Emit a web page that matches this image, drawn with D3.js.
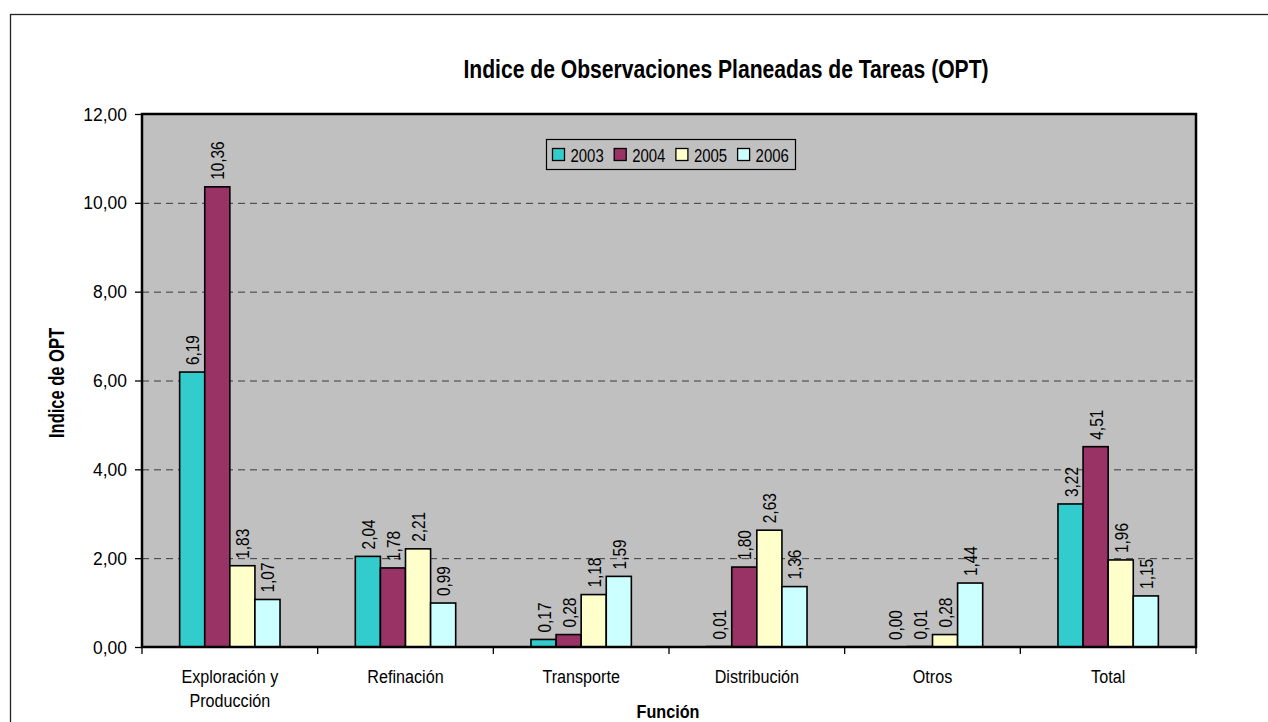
<!DOCTYPE html>
<html>
<head>
<meta charset="utf-8">
<script src="https://cdn.jsdelivr.net/npm/d3@7"></script>
<style>
  body { margin: 0; background: #fff; }
  text { font-family: "Liberation Sans", Arial, sans-serif; fill: #000; }
</style>
</head>
<body>
<div id="chart"></div>
<script>
var categories = [["Exploración y", "Producción"], ["Refinación"], ["Transporte"], ["Distribución"], ["Otros"], ["Total"]];
var years = ["2003", "2004", "2005", "2006"];
var v2003 = [6.19, 2.04, 0.17, 0.01, 0.00, 3.22];
var v2004 = [10.36, 1.78, 0.28, 1.80, 0.01, 4.51];
var v2005 = [1.83, 2.21, 1.18, 2.63, 0.28, 1.96];
var v2006 = [1.07, 0.99, 1.59, 1.36, 1.44, 1.15];
var yTicks = [0, 2, 4, 6, 8, 10, 12];
var colors = ["#33CCCC", "#993366", "#FFFFCC", "#CCFFFF"];

var series = [v2003, v2004, v2005, v2006];
var width = 1268, height = 722;
var plot = { left: 142, top: 114, right: 1196, bottom: 647 };
var fmt = function (d) { return d.toFixed(2).replace(".", ","); };

// the source uses a tall, narrow face: Arial squeezed horizontally
function label(parent, tx, ty, sx, rot) {
    return parent.append("text")
        .attr("transform", "translate(" + tx + "," + ty + ")" + (rot ? " rotate(" + rot + ")" : "") + " scale(" + sx + ",1)");
}

var svg = d3.select("#chart").append("svg")
    .attr("width", width).attr("height", height);

// outer chart border
svg.append("rect")
    .attr("x", 10.5).attr("y", 14.5)
    .attr("width", 1300).attr("height", 800)
    .attr("fill", "#fff").attr("stroke", "#222").attr("stroke-width", 1.3);

var x0 = d3.scaleBand()
    .domain(d3.range(categories.length))
    .range([plot.left, plot.right]);
var x1 = d3.scaleBand()
    .domain(d3.range(years.length))
    .range([0, x0.bandwidth()])
    .paddingOuter(1.5)
    .paddingInner(0);
var y = d3.scaleLinear().domain([0, 12]).range([plot.bottom, plot.top]);

// plot area
svg.append("rect")
    .attr("x", plot.left).attr("y", plot.top)
    .attr("width", plot.right - plot.left).attr("height", plot.bottom - plot.top)
    .attr("fill", "#C0C0C0");

// grid
svg.append("g").selectAll("line")
    .data(yTicks.filter(function (d) { return d > 0 && d < 12; }))
    .enter().append("line")
    .attr("x1", plot.left).attr("x2", plot.right)
    .attr("y1", function (d) { return y(d) + 0.5; })
    .attr("y2", function (d) { return y(d) + 0.5; })
    .attr("stroke", "#3a3a3a").attr("stroke-dasharray", "7,5");

// bars
var groups = svg.append("g").selectAll("g")
    .data(categories)
    .enter().append("g")
    .attr("transform", function (d, i) { return "translate(" + x0(i) + ",0)"; });

var cells = function (d, i) { return series.map(function (s, j) { return { s: j, v: s[i] }; }); };

groups.selectAll("rect")
    .data(cells)
    .enter().append("rect")
    .attr("x", function (d) { return x1(d.s); })
    .attr("y", function (d) { return y(d.v); })
    .attr("width", x1.bandwidth())
    .attr("height", function (d) { return y(0) - y(d.v); })
    .attr("fill", function (d) { return colors[d.s]; })
    .attr("stroke", "#000").attr("stroke-width", 1.6);

groups.each(function (c, i) {
    var g = d3.select(this);
    cells(c, i).forEach(function (d) {
        label(g, x1(d.s) + x1.bandwidth() / 2 + 7, y(d.v) - 7, 0.81, -90)
            .attr("font-size", 19)
            .text(fmt(d.v));
    });
});

// plot border
svg.append("rect")
    .attr("x", plot.left).attr("y", plot.top)
    .attr("width", plot.right - plot.left).attr("height", plot.bottom - plot.top)
    .attr("fill", "none").attr("stroke", "#000").attr("stroke-width", 2.5);

// y axis
var yAxis = svg.append("g")
    .attr("transform", "translate(" + plot.left + ",0)")
    .call(d3.axisLeft(y).tickValues(yTicks).tickFormat(fmt).tickSize(7).tickPadding(8));
yAxis.select(".domain").remove();
yAxis.selectAll("line").attr("stroke-width", 1.3);
yAxis.selectAll("text")
    .attr("font-size", 19).attr("font-family", null)
    .attr("x", -15 / 0.92)
    .attr("transform", "scale(0.92,1)");

// x axis ticks at category boundaries
svg.append("g").selectAll("line")
    .data(d3.range(categories.length + 1))
    .enter().append("line")
    .attr("x1", function (i) { return plot.left + i * x0.bandwidth(); })
    .attr("x2", function (i) { return plot.left + i * x0.bandwidth(); })
    .attr("y1", plot.bottom).attr("y2", plot.bottom + 7)
    .attr("stroke", "#000").attr("stroke-width", 1.3);

categories.forEach(function (lines, i) {
    lines.forEach(function (line, k) {
        label(svg, x0(i) + x0.bandwidth() / 2, 683 + k * 24, 0.85)
            .attr("text-anchor", "middle")
            .attr("font-size", 19)
            .text(line);
    });
});

// titles
label(svg, 726, 78, 0.845)
    .attr("text-anchor", "middle")
    .attr("font-size", 25).attr("font-weight", "bold")
    .text("Indice de Observaciones Planeadas de Tareas (OPT)");

label(svg, 668, 718, 0.9)
    .attr("text-anchor", "middle")
    .attr("font-size", 18).attr("font-weight", "bold")
    .text("Función");

label(svg, 64, 383, 0.75, -90)
    .attr("text-anchor", "middle")
    .attr("font-size", 22).attr("font-weight", "bold")
    .text("Indice de OPT");

// legend
var legend = svg.append("g").attr("transform", "translate(546.5,139.5)");
legend.append("rect")
    .attr("width", 249).attr("height", 30)
    .attr("fill", "#C0C0C0").attr("stroke", "#000").attr("stroke-width", 1.2);
years.forEach(function (yr, i) {
    var gx = 6 + i * 61.7;
    legend.append("rect")
        .attr("x", gx).attr("y", 9)
        .attr("width", 12).attr("height", 12)
        .attr("fill", colors[i])
        .attr("stroke", "#000").attr("stroke-width", 1.3);
    label(legend, gx + 18, 22, 0.83)
        .attr("font-size", 18)
        .text(yr);
});
</script>
</body>
</html>
